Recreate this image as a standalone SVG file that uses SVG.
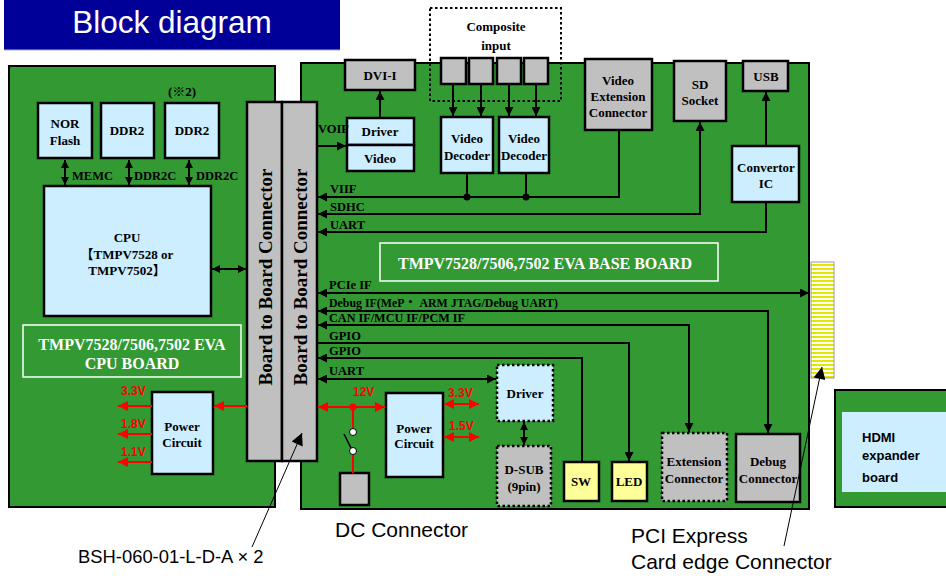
<svg xmlns="http://www.w3.org/2000/svg" width="946" height="576" viewBox="0 0 946 576">
<defs>
<marker id="ah" viewBox="0 0 10 10" refX="10" refY="5" markerWidth="10" markerHeight="9" orient="auto-start-reverse" markerUnits="userSpaceOnUse"><path d="M0,0 L10,5 L0,10 z" fill="#000"/></marker>
<marker id="ahs" viewBox="0 0 10 10" refX="10" refY="5" markerWidth="8" markerHeight="8" orient="auto-start-reverse" markerUnits="userSpaceOnUse"><path d="M0,0 L10,5 L0,10 z" fill="#000"/></marker>
<marker id="ahr" viewBox="0 0 10 10" refX="10" refY="5" markerWidth="11" markerHeight="10" orient="auto-start-reverse" markerUnits="userSpaceOnUse"><path d="M0,0 L10,5 L0,10 z" fill="#ff0000"/></marker>
<marker id="ahl" viewBox="0 0 10 10" refX="10" refY="5" markerWidth="15" markerHeight="12" orient="auto" markerUnits="userSpaceOnUse"><path d="M0,0 L10,5 L0,10 z" fill="#000"/></marker>
<pattern id="stripes" width="6" height="4" patternUnits="userSpaceOnUse"><rect width="6" height="4" fill="#ffffff"/><rect width="6" height="2" fill="#e6e600"/></pattern>
</defs>
<style>
.board{fill:#339933;stroke:#000;stroke-width:2}
.blue{fill:#cceeff;stroke:#000;stroke-width:2.5}
.gray{fill:#c0c0c0;stroke:#000;stroke-width:2.5}
.yel{fill:#ffff99;stroke:#000;stroke-width:2.5}
.dot{stroke-dasharray:2.5,2.5}
.t{font-family:"Liberation Serif","Noto Sans CJK JP",serif;font-weight:bold;font-size:13px;fill:#000;text-anchor:middle}
.lb{font-family:"Liberation Serif","Noto Sans CJK JP",serif;font-weight:bold;font-size:12.5px;fill:#000}
.w{font-family:"Liberation Serif",serif;font-weight:bold;font-size:16px;fill:#fff;text-anchor:middle}
.r{font-family:"Liberation Sans",Arial,sans-serif;font-weight:bold;font-size:12px;fill:#ff0000}
.s{font-family:"Liberation Sans",Arial,sans-serif;font-size:21px;fill:#000}
.ln{fill:none;stroke:#000;stroke-width:2}
.rl{fill:none;stroke:#ff0000;stroke-width:2}
</style>

<g id="title">
<rect x="4" y="0" width="336" height="50" fill="#000099"/>
<line x1="4" y1="50" x2="340" y2="50" stroke="#aab0e0" stroke-width="1"/>
<text x="172" y="33" font-family="'Liberation Sans',Arial,sans-serif" font-size="31.5" fill="#fff" text-anchor="middle">Block diagram</text>
</g>

<g id="cpu-board">
<rect class="board" x="9" y="66" width="266" height="441"/>
<rect x="23" y="325" width="218" height="52" fill="none" stroke="#fff" stroke-width="1.5"/>
<text class="w" x="132" y="350">TMPV7528/7506,7502 EVA</text>
<text class="w" x="132" y="369">CPU BOARD</text>
</g>

<g id="base-board">
<rect class="board" x="301" y="63" width="508" height="446"/>
<rect x="380" y="243" width="338" height="38" fill="none" stroke="#fff" stroke-width="1.5"/>
<text class="w" x="545" y="269">TMPV7528/7506,7502 EVA BASE BOARD</text>
</g>

<g id="hdmi-board">
<rect class="board" x="835" y="390" width="120" height="117"/>
<rect x="842" y="412" width="110" height="80" fill="#cceeff"/>
<text x="862" y="442" font-family="'Liberation Sans',Arial,sans-serif" font-weight="bold" font-size="13">HDMI</text>
<text x="862" y="460" font-family="'Liberation Sans',Arial,sans-serif" font-weight="bold" font-size="13">expander</text>
<text x="862" y="482" font-family="'Liberation Sans',Arial,sans-serif" font-weight="bold" font-size="13">board</text>
</g>

<g id="pci-edge">
<rect x="811" y="262" width="23" height="116" fill="url(#stripes)" stroke="#999" stroke-width="1"/>
</g>

<g id="nor-flash">
<rect class="blue" x="38" y="103" width="54" height="55"/>
<text class="t" x="65" y="128">NOR</text>
<text class="t" x="65" y="145">Flash</text>
</g>
<g id="ddr2-1">
<rect class="blue" x="101" y="103" width="53" height="55"/>
<text class="t" x="127" y="135">DDR2</text>
</g>
<g id="ddr2-2">
<rect class="blue" x="165" y="103" width="54" height="55"/>
<text class="t" x="192" y="135">DDR2</text>
<text class="t" x="182" y="96">(※2)</text>
</g>
<g id="cpu">
<rect class="blue" x="44" y="186" width="167" height="130"/>
<text class="t" x="127" y="242">CPU</text>
<text class="t" x="127" y="259">【TMPV7528 or</text>
<text class="t" x="127" y="275">TMPV7502】</text>
</g>
<g id="power-cpu">
<rect class="blue" x="152" y="392" width="61" height="82"/>
<text class="t" x="182" y="431">Power</text>
<text class="t" x="182" y="447">Circuit</text>
</g>

<g id="b2b-1">
<rect class="gray" x="247" y="102" width="35" height="359" stroke-width="2"/>
<text transform="translate(272,277) rotate(-90)" font-family="'Liberation Serif',serif" font-weight="bold" font-size="19" text-anchor="middle">Board to Board Connector</text>
</g>
<g id="b2b-2">
<rect class="gray" x="282" y="102" width="35" height="359" stroke-width="2"/>
<text transform="translate(307,277) rotate(-90)" font-family="'Liberation Serif',serif" font-weight="bold" font-size="19" text-anchor="middle">Board to Board Connector</text>
</g>

<g id="dvi-i">
<rect class="gray" x="345" y="60" width="70" height="30"/>
<text class="t" x="380" y="80">DVI-I</text>
</g>
<g id="video-driver">
<rect class="blue" x="347" y="118" width="67" height="27"/>
<rect class="blue" x="347" y="145" width="67" height="26"/>
<text class="t" x="380" y="136">Driver</text>
<text class="t" x="380" y="163">Video</text>
</g>
<g id="composite-input">
<rect x="430" y="8" width="131" height="93" fill="none" stroke="#000" stroke-width="2" stroke-dasharray="2.5,2.5"/>
<text class="t" x="496" y="31">Composite</text>
<text class="t" x="496" y="50">input</text>
<rect class="gray" x="441" y="58" width="25" height="26"/>
<rect class="gray" x="469" y="58" width="24" height="26"/>
<rect class="gray" x="497" y="58" width="24" height="26"/>
<rect class="gray" x="524" y="58" width="24" height="26"/>
</g>
<g id="video-decoder-1">
<rect class="blue" x="441" y="117" width="52" height="56"/>
<text class="t" x="467" y="143">Video</text>
<text class="t" x="467" y="160">Decoder</text>
</g>
<g id="video-decoder-2">
<rect class="blue" x="499" y="117" width="50" height="56"/>
<text class="t" x="524" y="143">Video</text>
<text class="t" x="524" y="160">Decoder</text>
</g>
<g id="video-ext-connector">
<rect class="gray" x="585" y="59" width="67" height="71"/>
<text class="t" x="618" y="85">Video</text>
<text class="t" x="618" y="101">Extension</text>
<text class="t" x="618" y="117">Connector</text>
</g>
<g id="sd-socket">
<rect class="gray" x="674" y="61" width="52" height="60"/>
<text class="t" x="700" y="89">SD</text>
<text class="t" x="700" y="105">Socket</text>
</g>
<g id="usb">
<rect class="gray" x="743" y="61" width="45" height="30"/>
<text class="t" x="766" y="81">USB</text>
</g>
<g id="convertor-ic">
<rect class="blue" x="732" y="146" width="67" height="56"/>
<text class="t" x="766" y="172">Convertor</text>
<text class="t" x="766" y="188">IC</text>
</g>
<g id="uart-driver">
<rect class="blue dot" x="497" y="365" width="56" height="56"/>
<text class="t" x="525" y="398">Driver</text>
</g>
<g id="d-sub">
<rect class="gray dot" x="497" y="446" width="54" height="60"/>
<text class="t" x="524" y="474">D-SUB</text>
<text class="t" x="524" y="491">(9pin)</text>
</g>
<g id="sw">
<rect class="yel" x="564" y="462" width="35" height="39"/>
<text class="t" x="581" y="486">SW</text>
</g>
<g id="led">
<rect class="yel" x="612" y="462" width="35" height="39"/>
<text class="t" x="629" y="486">LED</text>
</g>
<g id="extension-connector">
<rect class="gray dot" x="662" y="433" width="65" height="68"/>
<text class="t" x="694" y="466">Extension</text>
<text class="t" x="694" y="483">Connector</text>
</g>
<g id="debug-connector">
<rect class="gray" x="736" y="434" width="64" height="68"/>
<text class="t" x="768" y="466">Debug</text>
<text class="t" x="768" y="483">Connector</text>
</g>
<g id="power-base">
<rect class="blue" x="386" y="393" width="57" height="84"/>
<text class="t" x="414" y="433">Power</text>
<text class="t" x="414" y="448">Circuit</text>
</g>
<g id="dc-connector">
<rect class="gray" x="340" y="473" width="29" height="32" stroke-width="2"/>
</g>

<g id="connectors">
<line class="ln" x1="65" y1="160" x2="65" y2="185" marker-start="url(#ahs)" marker-end="url(#ahs)"/>
<line class="ln" x1="129" y1="160" x2="129" y2="185" marker-start="url(#ahs)" marker-end="url(#ahs)"/>
<line class="ln" x1="189" y1="160" x2="189" y2="185" marker-start="url(#ahs)" marker-end="url(#ahs)"/>
<line class="ln" x1="212" y1="269" x2="246" y2="269" marker-start="url(#ahs)" marker-end="url(#ahs)"/>
<line class="rl" x1="247" y1="406" x2="214" y2="406" marker-end="url(#ahr)"/>
<line class="rl" x1="152" y1="406" x2="118" y2="406" marker-end="url(#ahr)"/>
<line class="rl" x1="152" y1="434" x2="118" y2="434" marker-end="url(#ahr)"/>
<line class="rl" x1="152" y1="462" x2="118" y2="462" marker-end="url(#ahr)"/>

<line class="ln" x1="317" y1="146" x2="346" y2="146" marker-end="url(#ah)"/>
<line class="ln" x1="380" y1="118" x2="380" y2="91" marker-end="url(#ah)"/>
<line class="ln" x1="453" y1="84" x2="453" y2="116" marker-end="url(#ah)"/>
<line class="ln" x1="481" y1="84" x2="481" y2="116" marker-end="url(#ah)"/>
<line class="ln" x1="509" y1="84" x2="509" y2="116" marker-end="url(#ah)"/>
<line class="ln" x1="536" y1="84" x2="536" y2="116" marker-end="url(#ah)"/>
<line class="ln" x1="467" y1="173" x2="467" y2="197"/>
<line class="ln" x1="526" y1="173" x2="526" y2="197"/>
<circle cx="467" cy="197" r="3.5" fill="#000"/>
<circle cx="526" cy="197" r="3.5" fill="#000"/>
<polyline class="ln" points="619,130 619,197 318,197" marker-end="url(#ah)"/>
<polyline class="ln" points="700,122 700,214 318,214" marker-start="url(#ah)" marker-end="url(#ah)"/>
<polyline class="ln" points="766,202 766,232 318,232" marker-end="url(#ah)"/>
<line class="ln" x1="766" y1="146" x2="766" y2="92" marker-end="url(#ah)"/>

<line class="ln" x1="318" y1="293" x2="809" y2="293" marker-start="url(#ah)" marker-end="url(#ah)"/>
<polyline class="ln" points="318,311 768,311 768,433" marker-start="url(#ah)" marker-end="url(#ah)"/>
<polyline class="ln" points="318,325 689,325 689,432" marker-start="url(#ah)" marker-end="url(#ah)"/>
<polyline class="ln" points="317,343 629,343 629,461" marker-end="url(#ah)"/>
<polyline class="ln" points="318,358 582,358 582,462" marker-start="url(#ah)"/>
<line class="ln" x1="318" y1="379" x2="496" y2="379" marker-start="url(#ah)" marker-end="url(#ah)"/>
<line class="ln" x1="524" y1="422" x2="524" y2="445" marker-start="url(#ahs)" marker-end="url(#ahs)"/>

<line class="rl" x1="318" y1="407" x2="385" y2="407" marker-start="url(#ahr)" marker-end="url(#ahr)"/>
<circle cx="353" cy="407" r="3.5" fill="#ff0000"/>
<line class="rl" x1="353" y1="407" x2="353" y2="428"/>
<circle cx="353" cy="432" r="3.5" fill="#fff" stroke="#000" stroke-width="1"/>
<circle cx="353" cy="451" r="3.5" fill="#fff" stroke="#000" stroke-width="1"/>
<line x1="351" y1="448" x2="344" y2="434" stroke="#000" stroke-width="1.5"/>
<line class="rl" x1="353" y1="455" x2="353" y2="473"/>
<line class="rl" x1="444" y1="404" x2="479" y2="404" marker-start="url(#ahr)" marker-end="url(#ahr)"/>
<line class="rl" x1="444" y1="437" x2="479" y2="437" marker-start="url(#ahr)" marker-end="url(#ahr)"/>

<line x1="252" y1="547" x2="302" y2="433" stroke="#000" stroke-width="1" marker-end="url(#ahl)"/>
<line x1="784" y1="546" x2="822" y2="367" stroke="#000" stroke-width="1" marker-end="url(#ahl)"/>
</g>

<g id="labels">
<text class="lb" x="72" y="180">MEMC</text>
<text class="lb" x="134" y="180">DDR2C</text>
<text class="lb" x="196" y="180">DDR2C</text>
<text class="lb" x="318" y="133">VOIF</text>
<text class="lb" x="330" y="193">VIIF</text>
<text class="lb" x="330" y="211">SDHC</text>
<text class="lb" x="330" y="229">UART</text>
<text class="lb" x="329" y="289">PCIe IF</text>
<text class="lb" x="329" y="307" textLength="229" lengthAdjust="spacingAndGlyphs">Debug IF(MeP・ ARM JTAG/Debug UART)</text>
<text class="lb" x="329" y="322" textLength="136" lengthAdjust="spacingAndGlyphs">CAN IF/MCU IF/PCM IF</text>
<text class="lb" x="329" y="340">GPIO</text>
<text class="lb" x="329" y="355">GPIO</text>
<text class="lb" x="329" y="375">UART</text>
<text class="r" x="121" y="395">3.3V</text>
<text class="r" x="121" y="428">1.8V</text>
<text class="r" x="121" y="456">1.1V</text>
<text class="r" x="353" y="396">12V</text>
<text class="r" x="448" y="397">3.3V</text>
<text class="r" x="449" y="430">1.5V</text>
<text class="s" x="335" y="537">DC Connector</text>
<text class="s" x="631" y="543">PCI Express</text>
<text class="s" x="631" y="569">Card edge Connector</text>
<text x="78" y="563" font-family="'Liberation Sans',Arial,sans-serif" font-size="18.4">BSH-060-01-L-D-A × 2</text>
</g>
</svg>
